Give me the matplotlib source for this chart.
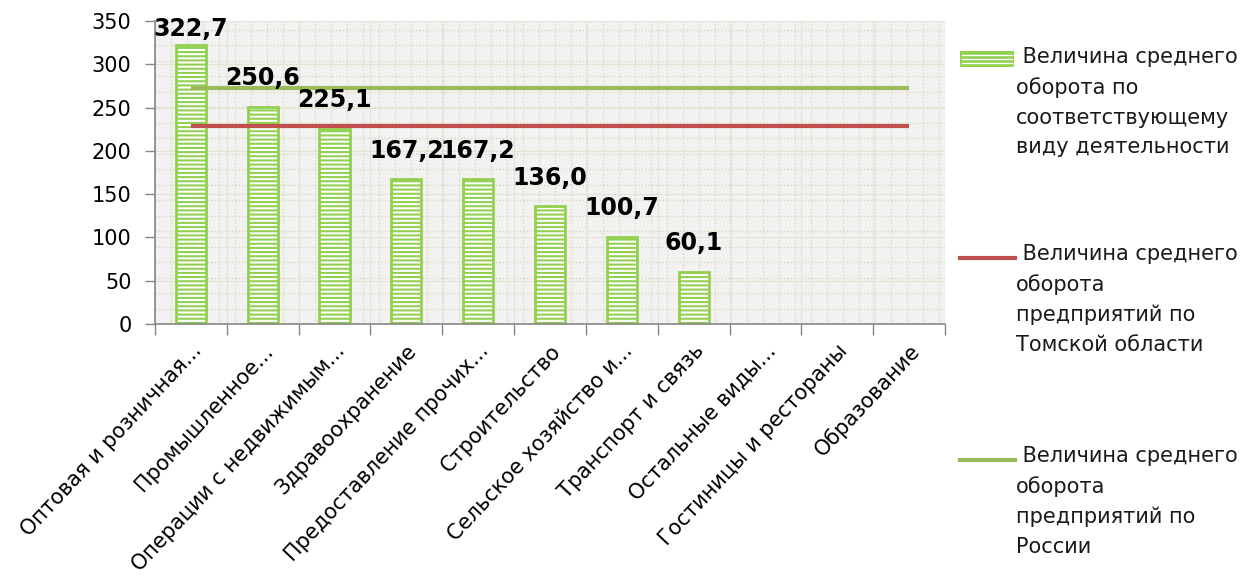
import numpy as np
import matplotlib
matplotlib.use("Agg")
import matplotlib.pyplot as plt
from matplotlib.patches import Rectangle
from matplotlib.lines import Line2D

plt.rcParams['font.family'] = ['DejaVu Sans']
plt.rcParams['hatch.linewidth'] = 1.5

# данные
categories = ['Оптовая и розничная...', 'Промышленное...', 'Операции с недвижимым...',
              'Здравоохранение', 'Предоставление прочих...', 'Строительство',
              'Сельское хозяйство и...', 'Транспорт и связь', 'Остальные виды...',
              'Гостиницы и рестораны', 'Образование']
turnover = [322.7, 250.6, 225.1, 167.2, 167.2, 136.0, 100.7, 60.1, np.nan, np.nan, np.nan]
tomsk_avg = [228.5] * 11
russia_avg = [273.0] * 11
yticks = [0, 50, 100, 150, 200, 250, 300, 350]

legend_labels = [' Величина среднего\nоборота по\nсоответствующему\nвиду деятельности',
                 ' Величина среднего\nоборота\nпредприятий по\nТомской области',
                 ' Величина среднего\nоборота\nпредприятий по\nРоссии']

bar_green = '#92D050'
red = '#C0504D'
line_green = '#9BBB59'
grid_col = '#DDD6BC'

fig = plt.figure(figsize=(12.46, 5.77), dpi=100)
ax = fig.add_axes([155/1246, 1 - 324/577, 790/1246, 303/577])
ax.set_facecolor('#F2F2F2')

x = np.arange(len(categories))

# фон-сетка (текстура области построения)
for f in np.arange(0.0, 1.0, 16/790):
    ax.axvline(f * 11 - 0.5, color=grid_col, lw=1, ls=(0, (1, 1.5)), zorder=0.5)
for f in np.arange(0.0, 1.0, 15.5/303):
    ax.axhline(f * 350, color=grid_col, lw=1, ls=(0, (1, 1.5)), zorder=0.5)
for b in np.arange(-0.5, 11, 1):
    ax.axvline(b, color='#E6E2D3', lw=0.8, zorder=0.6)
for t in yticks:
    ax.axhline(t, color='#E6E2D3', lw=0.8, zorder=0.6)

bars = ax.bar(x, turnover, width=0.42, color='white', edgecolor=bar_green,
              linewidth=2, hatch='----', zorder=2)

# подписи значений: над столбцом, у верхнего края области - прижаты вниз
for rect, v in zip(bars, turnover):
    if np.isnan(v):
        continue
    pad = 2.5 if v > 300 else 12
    ax.annotate(f'{v:.1f}'.replace('.', ','), (rect.get_x() + rect.get_width() / 2, v),
                xytext=(0, pad), textcoords='offset points', ha='center', va='bottom',
                fontsize=17, fontweight='bold', zorder=4)

ax.plot(x, tomsk_avg, color=red, lw=3, zorder=3, solid_capstyle='butt')
ax.plot(x, russia_avg, color=line_green, lw=3, zorder=3, solid_capstyle='butt')

ax.set_xlim(-0.5, 10.5)
ax.set_ylim(0, 350)
ax.set_yticks(yticks)
ax.set_xticks(x)
ax.set_xticklabels(categories, rotation=47, ha='right', va='top',
                   rotation_mode='anchor', fontsize=15)
ax.set_xticks(np.arange(-0.5, 11, 1), minor=True)
ax.tick_params(axis='x', which='major', length=0, pad=12)
ax.tick_params(axis='x', which='minor', length=8, color='#868686', width=1)
ax.tick_params(axis='y', length=7, color='#868686', width=1, labelsize=15, pad=10)

for s in ['top', 'right']:
    ax.spines[s].set_visible(False)
for s in ['left', 'bottom']:
    ax.spines[s].set_color('#868686')
    ax.spines[s].set_linewidth(1.2)

# легенда
W, H = 1246, 577
fig.patches.append(Rectangle((960/W, 1 - 67/H), 54/W, 16/H, transform=fig.transFigure,
                             facecolor=bar_green, edgecolor='none', lw=0))
for yy in [55, 59, 63]:
    fig.lines.append(Line2D([962/W, 1012/W], [1 - yy/H] * 2, transform=fig.transFigure,
                            color='white', lw=1))
fig.lines.append(Line2D([960/W, 1015/W], [1 - 258/H] * 2, transform=fig.transFigure,
                        color=red, lw=3))
fig.lines.append(Line2D([960/W, 1015/W], [1 - 460/H] * 2, transform=fig.transFigure,
                        color=line_green, lw=3))
for lab, ytop in zip(legend_labels, [47, 244, 446]):
    fig.text(1016/W, 1 - ytop/H, lab, fontsize=15, va='top', ha='left',
             linespacing=1.6, color='#1a1a1a')

fig.savefig('out.png', dpi=100)
